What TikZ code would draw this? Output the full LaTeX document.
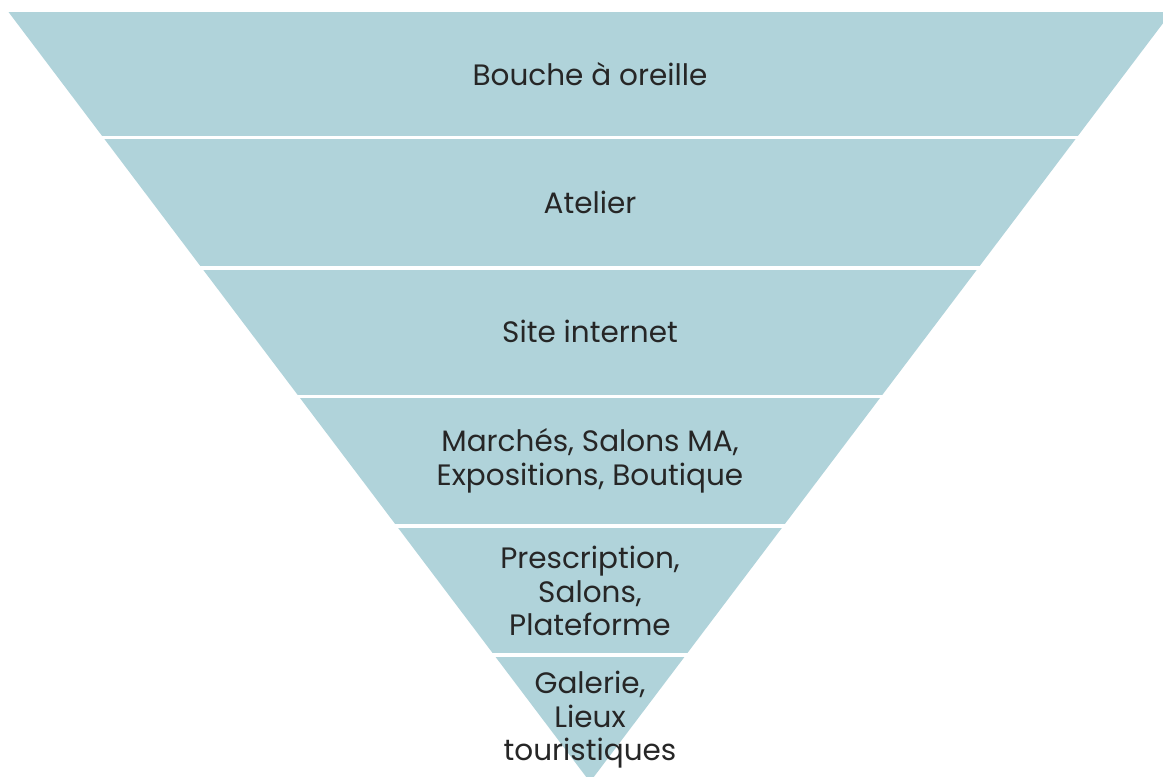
\documentclass[tikz,border=0pt]{standalone}
\usepackage{fontspec}
\setmainfont{Poppins}
\usepackage{xcolor}
\definecolor{bandfill}{HTML}{B0D3DA}
\definecolor{bandink}{HTML}{262626}

\begin{document}
\begin{tikzpicture}[x=1pt,y=-1pt,
  bandlabel/.style={align=center,font=\fontsize{29.5}{33.5}\selectfont,text=bandink}]
  \useasboundingbox (0,0) rectangle (1163,777);
  \clip (0,0) rectangle (1163,777);
  % funnel and the white cuts between bands
  \fill[bandfill] (8.5,12) -- (1171.5,12) -- (590,782) -- cycle;
  \foreach \y in {137.5,268,396.5,526,655} {\draw[white,line width=3.2] (0,\y) -- (1163,\y);}
  % band texts
  \node[bandlabel] (mouth) at (590,74) {Bouche à oreille};
  \node[bandlabel] (atelier) at (590,202) {Atelier};
  \node[bandlabel] (site) at (590,331) {Site internet};
  \node[bandlabel] (markets) at (590,461) {Marchés, Salons MA,\\Expositions, Boutique};
  \node[bandlabel] (prescr) at (590,591) {Prescription,\\Salons,\\Plateforme};
  \node[bandlabel] (gallery) at (590,720) {Galerie,\\Lieux\\touristiques};
\end{tikzpicture}
\end{document}
